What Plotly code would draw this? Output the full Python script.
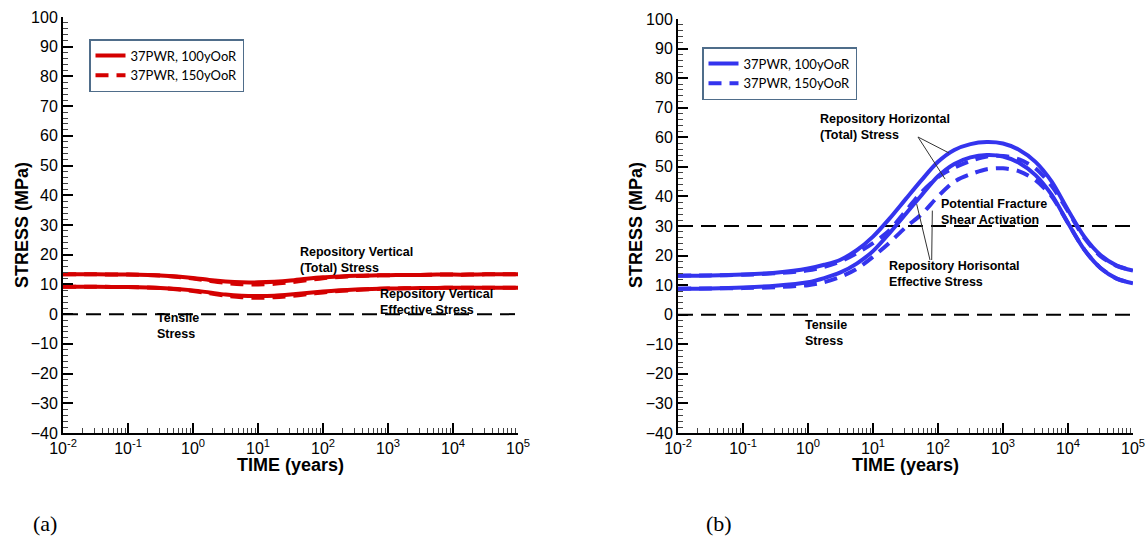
import plotly.graph_objects as go

# ---------------------------------------------------------------------------
# Data: stress histories (MPa) versus time (years)
# ---------------------------------------------------------------------------
time_years = [0.01, 0.0316, 0.1, 0.316, 1, 1.78, 3.16, 5.62, 10, 17.8, 31.6,
              56.2, 100, 178, 316, 562, 1000, 1780, 3160, 5620, 10000, 17800,
              31600, 56200, 100000]

# (a) repository vertical stresses
vert_total_100 = [13.4, 13.4, 13.3, 13.0, 12.2, 11.5, 11.0, 10.7, 10.7, 10.9, 11.3,
                  11.9, 12.4, 12.7, 12.9, 13.0, 13.1, 13.2, 13.2, 13.3, 13.3, 13.3,
                  13.4, 13.4, 13.4]
vert_total_150 = [13.4, 13.4, 13.3, 13.0, 12.0, 11.2, 10.5, 10.1, 10.0, 10.2, 10.7,
                  11.4, 12.1, 12.5, 12.8, 13.0, 13.1, 13.2, 13.2, 13.3, 13.3, 13.3,
                  13.4, 13.4, 13.4]
vert_eff_100 = [9.2, 9.2, 9.1, 8.8, 8.0, 7.3, 6.6, 6.2, 6.1, 6.2, 6.6, 7.1, 7.6,
                8.0, 8.3, 8.5, 8.6, 8.7, 8.8, 8.8, 8.9, 8.9, 8.9, 8.9, 8.9]
vert_eff_150 = [9.2, 9.2, 9.1, 8.8, 7.8, 7.0, 6.2, 5.7, 5.5, 5.7, 6.1, 6.7, 7.3,
                7.8, 8.1, 8.4, 8.6, 8.7, 8.8, 8.8, 8.9, 8.9, 8.9, 8.9, 8.9]

# (b) repository horizontal stresses
horz_total_100 = [13.2, 13.3, 13.6, 14.2, 15.6, 16.9, 18.6, 21.8, 26.4, 32.4, 39.0,
                  45.6, 51.7, 55.7, 57.7, 58.4, 57.9, 55.7, 51.7, 45.0, 35.4, 26.4,
                  20.2, 16.6, 14.9]
horz_total_150 = [13.2, 13.3, 13.5, 14.0, 15.0, 16.2, 18.0, 20.8, 24.2, 28.5, 35.0,
                  41.5, 46.5, 49.7, 52.0, 53.5, 53.7, 52.5, 49.5, 43.5, 35.0, 26.0,
                  19.8, 16.5, 14.9]
horz_eff_100 = [8.8, 8.9, 9.2, 9.8, 11.0, 12.4, 14.3, 17.3, 21.5, 27.5, 34.0, 40.5,
                46.8, 51.0, 53.2, 54.0, 53.5, 51.3, 47.2, 40.5, 31.0, 22.0, 15.8,
                12.2, 10.6]
horz_eff_150 = [8.8, 8.9, 9.0, 9.3, 10.0, 11.0, 12.8, 15.5, 19.6, 24.3, 29.5, 34.0,
                40.0, 45.0, 47.5, 49.2, 49.5, 48.5, 45.5, 40.0, 31.0, 22.0, 15.8,
                12.2, 10.6]

# reference levels (MPa)
tensile_level = 0
shear_activation_level = 30

series_names = ["37PWR, 100yOoR", "37PWR, 150yOoR"]

# axis ticks
decade_vals = [0.01, 0.1, 1, 10, 100, 1000, 10000, 100000]
decade_text = ["10<sup>-2</sup>", "10<sup>-1</sup>", "10<sup>0</sup>", "10<sup>1</sup>",
               "10<sup>2</sup>", "10<sup>3</sup>", "10<sup>4</sup>", "10<sup>5</sup>"]
minor_vals = [m * d for d in [0.01, 0.1, 1, 10, 100, 1000, 10000] for m in range(2, 10)]

# ---------------------------------------------------------------------------
W, H = 1145, 548
RED = "#d40000"
BLUE = "#3434ee"
SANS = "Liberation Sans, Arial, sans-serif"
REF_DASH = "15px,8px"
SERIES_DASH = "13px,8px"


def px(x):
    return x / W


def py(y):
    return 1 - y / H


fig = go.Figure()

t_span = [time_years[0], time_years[-1]]


def add_curve(y, color, dash, name, xa, ya, legend, show):
    fig.add_trace(go.Scatter(
        x=time_years, y=y, mode="lines", name=name,
        line=dict(color=color, width=4, dash=dash, shape="spline", smoothing=0.8),
        xaxis=xa, yaxis=ya, legend=legend, showlegend=show, hoverinfo="skip"))


def add_ref_line(level, xa, ya):
    fig.add_trace(go.Scatter(
        x=t_span, y=[level, level], mode="lines",
        line=dict(color="black", width=2, dash=REF_DASH),
        xaxis=xa, yaxis=ya, showlegend=False, hoverinfo="skip"))


# panel (a)
add_ref_line(tensile_level, "x", "y")
add_curve(vert_total_100, RED, "solid", series_names[0], "x", "y", "legend", True)
add_curve(vert_eff_100, RED, "solid", series_names[0], "x", "y", "legend", False)
add_curve(vert_total_150, RED, SERIES_DASH, series_names[1], "x", "y", "legend", True)
add_curve(vert_eff_150, RED, SERIES_DASH, series_names[1], "x", "y", "legend", False)

# panel (b)
add_ref_line(tensile_level, "x2", "y2")
add_ref_line(shear_activation_level, "x2", "y2")
add_curve(horz_total_100, BLUE, "solid", series_names[0], "x2", "y2", "legend2", True)
add_curve(horz_eff_100, BLUE, "solid", series_names[0], "x2", "y2", "legend2", False)
add_curve(horz_total_150, BLUE, SERIES_DASH, series_names[1], "x2", "y2", "legend2", True)
add_curve(horz_eff_150, BLUE, SERIES_DASH, series_names[1], "x2", "y2", "legend2", False)

# leader lines from labels to curves in panel (b): (log10 t, MPa) pairs
leaders = [
    ((1.692, 60.1), (2.169, 54.7)),
    ((1.692, 60.1), (2.108, 45.9)),
    ((1.877, 18.5), (1.672, 37.4)),
    ((1.903, 18.5), (1.913, 35.2)),
]
for (lx0, ly0), (lx1, ly1) in leaders:
    fig.add_trace(go.Scatter(
        x=[10 ** lx0, 10 ** lx1], y=[ly0, ly1], mode="lines",
        line=dict(color="#333333", width=1),
        xaxis="x2", yaxis="y2", showlegend=False, hoverinfo="skip"))


def xaxis_cfg(domain, anchor):
    return dict(
        type="log", range=[-2, 5], domain=domain, anchor=anchor, automargin=False,
        showline=True, linecolor="black", linewidth=2,
        ticks="inside", ticklen=10, tickwidth=2, tickcolor="black",
        tickmode="array", tickvals=decade_vals, ticktext=decade_text,
        ticklabeloverflow="allow",
        minor=dict(ticks="inside", ticklen=5, tickwidth=1, tickcolor="#444444",
                   tickmode="array", tickvals=minor_vals),
        showgrid=False, zeroline=False,
        tickfont=dict(family=SANS, size=16, color="black"),
    )


def yaxis_cfg(domain, anchor):
    return dict(
        range=[-40, 100], domain=domain, anchor=anchor, automargin=False,
        showline=True, linecolor="black", linewidth=2,
        ticks="inside", ticklen=10, tickwidth=2, tickcolor="black",
        tickmode="linear", tick0=0, dtick=10,
        minor=dict(ticks="inside", ticklen=5, tickwidth=1, tickcolor="#444444",
                   tick0=0, dtick=2),
        showgrid=False, zeroline=False,
        tickfont=dict(family=SANS, size=16, color="black"),
    )


legend_style = dict(
    bgcolor="white", bordercolor="#4f6d8a", borderwidth=1.5,
    font=dict(family="Lato, Open Sans, sans-serif", size=13, color="black"),
    xanchor="left", yanchor="top", tracegroupgap=0, itemwidth=30,
)

annotations = []


def label(text, x, y, xref, yref, size=12.5, anchor="left"):
    annotations.append(dict(
        text=text, x=x, y=y, xref=xref, yref=yref, showarrow=False,
        xanchor=anchor, yanchor="middle", align="left",
        font=dict(family=SANS, size=size, color="black", weight="bold")))


# curve labels: (text, log10 t of left edge, MPa at block centre)
panel_a_labels = [
    ("Repository Vertical<br>(Total) Stress", 1.615, 18.2),
    ("Repository Vertical<br>Effective Stress", 2.85, 4.05),
    ("Tensile<br>Stress", -0.585, -4.05),
]
panel_b_labels = [
    ("Repository Horizontal<br>(Total) Stress", 0.154, 63.45),
    ("Potential Fracture<br>Shear Activation", 2.015, 34.9),
    ("Repository Horisontal<br>Effective Stress", 1.215, 13.9),
    ("Tensile<br>Stress", -0.077, -6.2),
]
for text, lx, ly in panel_a_labels:
    label(text, lx, ly, "x", "y")
for text, lx, ly in panel_b_labels:
    label(text, lx, ly, "x2", "y2")

# axis titles
for cx in (22, 636):
    annotations.append(dict(
        text="STRESS (MPa)", x=px(cx), y=py(225), xref="paper", yref="paper",
        showarrow=False, textangle=-90, xanchor="center", yanchor="middle",
        font=dict(family=SANS, size=18, color="black", weight="bold")))
for cx in (290.5, 905.5):
    annotations.append(dict(
        text="TIME (years)", x=px(cx), y=py(465), xref="paper", yref="paper",
        showarrow=False, xanchor="center", yanchor="middle",
        font=dict(family=SANS, size=18, color="black", weight="bold")))

# panel tags
for tag, cx in (("(a)", 45), ("(b)", 719)):
    annotations.append(dict(
        text=tag, x=px(cx), y=py(523), xref="paper", yref="paper",
        showarrow=False, xanchor="center", yanchor="middle",
        font=dict(family="Liberation Serif, Times New Roman, serif", size=22,
                  color="black")))

fig.update_layout(
    width=W, height=H,
    margin=dict(l=0, r=0, t=0, b=0, autoexpand=False),
    paper_bgcolor="white", plot_bgcolor="white",
    xaxis=xaxis_cfg([px(63), px(518)], "y"),
    yaxis=yaxis_cfg([py(433), py(17)], "x"),
    xaxis2=xaxis_cfg([px(678), px(1133)], "y2"),
    yaxis2=yaxis_cfg([py(433), py(19)], "x2"),
    legend=dict(x=px(89), y=py(39), **legend_style),
    legend2=dict(x=px(702), y=py(47), **legend_style),
    annotations=annotations,
)

fig.write_html("out.html")
